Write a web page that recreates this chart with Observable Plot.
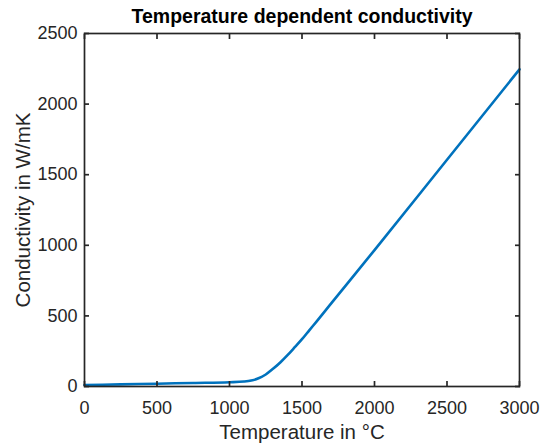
<!DOCTYPE html>
<html>
<head>
<meta charset="utf-8">
<script src="https://cdn.jsdelivr.net/npm/d3@7"></script>
<script src="https://cdn.jsdelivr.net/npm/@observablehq/plot@0.6"></script>
<style>
  body { margin: 0; background: #fff; }
  svg { display: block; }
</style>
</head>
<body>
<div id="chart"></div>
<script>
// Thermal conductivity versus temperature
const temperature = [0, 250, 500, 750, 1000, 1100, 1150, 1200, 1250, 1300, 1350, 1400, 1450, 1500, 1550, 1600, 1700, 2000, 2500, 3000];
const conductivity = [10, 15, 20, 25, 30, 35, 42, 58, 85, 125, 170, 222, 278, 335, 398, 460, 587, 966, 1606, 2246];

const xTicks = [0, 500, 1000, 1500, 2000, 2500, 3000];
const yTicks = [0, 500, 1000, 1500, 2000, 2500];

const titleText = "Temperature dependent conductivity";
const xLabel = "Temperature in °C";
const yLabel = "Conductivity in W/mK";

const data = temperature.map((t, i) => ({t, k: conductivity[i]}));
const ink = "#262626";
const plain = d3.format("d");
const blank = () => "";

const chart = Plot.plot({
  width: 540,
  height: 445,
  marginLeft: 84,
  marginRight: 21,
  marginTop: 33,
  marginBottom: 59,
  style: {fontFamily: "'Liberation Sans', Arial, sans-serif", fontSize: "15px", color: ink, background: "#fff"},
  x: {domain: [0, 3000], axis: null},
  y: {domain: [0, 2500], axis: null},
  marks: [
    Plot.line(data, {x: "t", y: "k", stroke: "#0072BD", strokeWidth: 2.6, curve: "monotone-x"}),
    Plot.frame({stroke: ink, strokeWidth: 1.7}),
    Plot.axisX({ticks: xTicks, anchor: "bottom", tickSize: -5, tickPadding: 20, tickFormat: plain, label: null, stroke: ink, fill: ink, strokeWidth: 1.7, fontSize: 18}),
    Plot.axisX({ticks: xTicks, anchor: "top", tickSize: -5, tickFormat: blank, label: null, stroke: ink, strokeWidth: 1.7}),
    Plot.axisY({ticks: yTicks, anchor: "left", tickSize: -5, tickPadding: 12, tickFormat: plain, label: null, stroke: ink, fill: ink, strokeWidth: 1.7, fontSize: 18}),
    Plot.axisY({ticks: yTicks, anchor: "right", tickSize: -5, tickFormat: blank, label: null, stroke: ink, strokeWidth: 1.7}),
    Plot.text([titleText], {frameAnchor: "top", dy: -17, lineAnchor: "middle", fontWeight: "bold", fontSize: 19.5, fill: "#000"}),
    Plot.text([xLabel], {frameAnchor: "bottom", dy: 46, lineAnchor: "middle", fontSize: 20.5, fill: ink}),
    Plot.text([yLabel], {frameAnchor: "left", dx: -61, rotate: -90, textAnchor: "middle", lineAnchor: "middle", fontSize: 20.5, fill: ink})
  ]
});

document.getElementById("chart").append(chart);
</script>
</body>
</html>
